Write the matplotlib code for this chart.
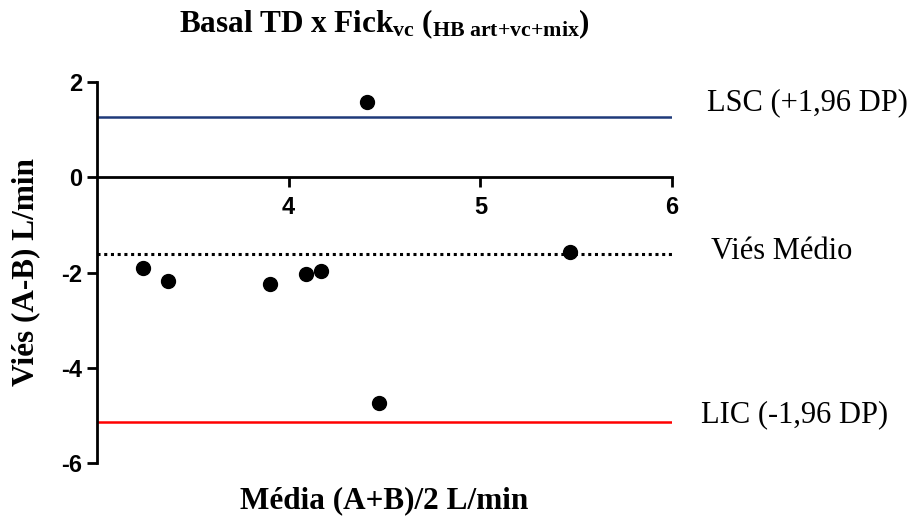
import matplotlib
matplotlib.use('Agg')
import matplotlib.pyplot as plt

# Bland-Altman: media (A+B)/2 vs vies (A-B)
media = [3.24, 3.37, 3.90, 4.09, 4.17, 4.41, 4.47, 5.47]
vies = [-1.90, -2.17, -2.24, -2.03, -1.96, 1.58, -4.75, -1.58]

vies_medio = -1.62
lsc = 1.27
lic = -5.13

x_ticks = [4, 5, 6]
y_ticks = [-6, -4, -2, 0, 2]

serif = 'Liberation Serif'
sans = 'Liberation Sans'

plt.rcParams['axes.unicode_minus'] = False
plt.rcParams['mathtext.fontset'] = 'custom'
plt.rcParams['mathtext.rm'] = serif
plt.rcParams['mathtext.bf'] = serif + ':bold'
plt.rcParams['mathtext.it'] = serif + ':italic'


def main():
    fig = plt.figure(figsize=(9.2, 5.22), dpi=100)
    ax = fig.add_axes([97 / 920, 1 - 463 / 522, 575 / 920, 381 / 522])

    ax.axhline(lsc, color='#1f3a7a', lw=1.8, zorder=2)
    ax.axhline(vies_medio, color='black', lw=2.2, linestyle=(0, (1, 1.2)), zorder=2)
    ax.axhline(lic, color='#ff0000', lw=1.8, zorder=2)
    ax.plot(media, vies, 'o', color='black', ms=10, zorder=3, clip_on=False)

    ax.set_xlim(3, 6)
    ax.set_ylim(-6, 2)
    ax.set_xticks(x_ticks)
    ax.set_yticks(y_ticks)

    ax.spines['top'].set_visible(False)
    ax.spines['right'].set_visible(False)
    ax.spines['bottom'].set_position(('data', 0))
    for s in ['left', 'bottom']:
        ax.spines[s].set_linewidth(2)
    ax.tick_params(axis='both', width=2, length=7.5, direction='out', color='black')
    ax.tick_params(axis='y', pad=3)
    ax.tick_params(axis='x', pad=6)
    for lbl in ax.get_xticklabels() + ax.get_yticklabels():
        lbl.set_fontfamily(sans)
        lbl.set_fontweight('bold')
        lbl.set_fontsize(17)

    ax.set_ylabel('Viés (A-B) L/min', fontfamily=serif, fontweight='bold', fontsize=22.5)
    ax.yaxis.set_label_coords(-0.098, 0.5)
    ax.set_xlabel('Média (A+B)/2 L/min', fontfamily=serif, fontweight='bold', fontsize=22.5)
    ax.xaxis.set_label_coords(0.5, -0.06)

    # rotulos das linhas
    ax.annotate('LSC (+1,96 DP)', xy=(6, lsc), xytext=(25, 10), textcoords='offset points',
                fontfamily=serif, fontsize=22, va='center', ha='left', annotation_clip=False)
    ax.annotate('Viés Médio', xy=(6, vies_medio), xytext=(28, 2), textcoords='offset points',
                fontfamily=serif, fontsize=22, va='center', ha='left', annotation_clip=False)
    ax.annotate('LIC (-1,96 DP)', xy=(6, lic), xytext=(21, 5), textcoords='offset points',
                fontfamily=serif, fontsize=22, va='center', ha='left', annotation_clip=False)

    fig.text(384 / 920, 1 - 32 / 522,
             r'$\mathbf{Basal\ TD\ x\ Fick_{vc}\ (_{HB\ art{+}vc{+}mix})}$',
             fontsize=22.5, ha='center', va='baseline')

    fig.savefig('out.png', dpi=100)


if __name__ == '__main__':
    main()
